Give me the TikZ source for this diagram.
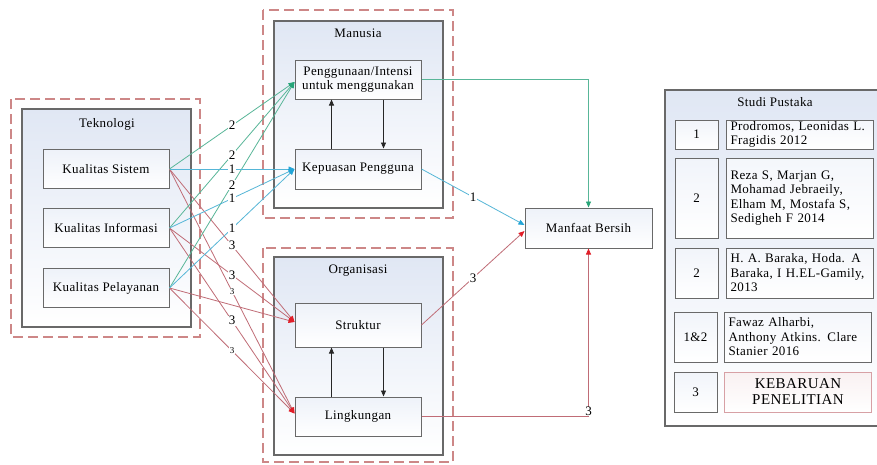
\documentclass[tikz,border=0pt]{standalone}
\usepackage{fontspec}
\setmainfont{Liberation Serif}[LetterSpace=3]
\usetikzlibrary{arrows.meta,calc}

\definecolor{tealline}{RGB}{88,182,152}
\definecolor{tealtip}{RGB}{40,165,120}
\definecolor{cyanline}{RGB}{85,182,215}
\definecolor{cyantip}{RGB}{35,165,215}
\definecolor{redline}{RGB}{192,108,118}
\definecolor{redtip}{RGB}{225,30,40}
\definecolor{dashred}{RGB}{205,135,135}
\definecolor{boxgray}{RGB}{105,105,105}
\definecolor{shadeblue}{RGB}{224,231,244}
\definecolor{pinkedge}{RGB}{215,160,165}

\tikzset{
  group/.style={draw=dashred, line width=1.3pt, dash pattern=on 10pt off 5pt},
  panel/.style={draw=boxgray, line width=1.1pt, top color=shadeblue, bottom color=white},
  title/.style={font=\fontsize{13}{14}\selectfont, inner sep=0pt},
  item/.style={draw=boxgray, line width=1pt, top color=shadeblue!55!white, bottom color=white,
    minimum width=126pt, minimum height=39pt, inner sep=0pt, align=center,
    font=\fontsize{13}{14.5}\selectfont},
  numbox/.style={draw=boxgray, line width=1pt, top color=shadeblue!45!white, bottom color=white,
    minimum width=43pt, inner sep=0pt, font=\fontsize{13}{14}\selectfont},
  refbox/.style={draw=boxgray, line width=1pt, top color=shadeblue!35!white, bottom color=white,
    text width=139pt, inner xsep=4pt, inner ysep=0pt, align=left,
    font=\fontsize{13}{14.5}\selectfont},
  lab/.style={fill=white, inner sep=0.6pt, pos=0.5, font=\fontsize{13}{13}\selectfont},
  smlab/.style={fill=white, inner sep=0.4pt, pos=0.5, font=\fontsize{9}{9}\selectfont},
  tealc/.style={draw=tealline, line width=0.8pt, -{Triangle[length=6pt,width=5pt,color=tealtip]}},
  cyanc/.style={draw=cyanline, line width=0.8pt, -{Triangle[length=6pt,width=5pt,color=cyantip]}},
  redc/.style={draw=redline, line width=0.8pt, -{Triangle[length=6pt,width=5pt,color=redtip]}},
  blkc/.style={draw=black!85, line width=0.9pt, -{Triangle[length=6pt,width=5pt]}},
}

\begin{document}
\begin{tikzpicture}[x=1pt, y=-1pt]
\useasboundingbox (0,0) rectangle (877,464);
\fill[white] (0,0) rectangle (877,464);

% containers
\draw[group] (11,99) rectangle (200,337);
\draw[panel] (22,109) rectangle (191,327);
\node[title] (tekt) at (107,124) {Teknologi};

\draw[group] (263,10) rectangle (453,218);
\draw[panel] (274,21) rectangle (443,208);
\node[title] (mant) at (358,33) {Manusia};

\draw[group] (263,248) rectangle (453,462);
\draw[panel] (274,257) rectangle (443,455);
\node[title] (orgt) at (358,271) {Organisasi};

\draw[panel] (665,90) rectangle (884,426);
\node[title] (spt) at (775,102) {Studi Pustaka};

% technology factors
\node[item] (ks) at (106,169) {Kualitas Sistem};
\node[item] (ki) at (106,228) {Kualitas Informasi};
\node[item] (kpl) at (106,288) {Kualitas Pelayanan};

% human factors
\node[item] (pg) at (358,79.5) {Penggunaan/Intensi\\untuk menggunakan};
\node[item, minimum height=40pt] (kp) at (358,169) {Kepuasan Pengguna};

% organisation factors
\node[item, minimum height=44pt] (st) at (358,325) {Struktur};
\node[item] (lk) at (358,416.5) {Lingkungan};

% outcome
\node[item, minimum width=127pt, minimum height=40pt] (mb) at (588.5,228) {Manfaat Bersih};

% literature table
\node[numbox, minimum height=29pt] (n1) at (696.5,134.5) {1};
\node[refbox, minimum height=29pt] (r1) at (800,134.5) {Prodromos, Leonidas L.\\Fragidis 2012};
\node[numbox, minimum height=80pt] (n2) at (696.5,198) {2};
\node[refbox, minimum height=80pt] (r2) at (800,198) {Reza S, Marjan G,\\Mohamad Jebraeily,\\Elham M, Mostafa S,\\Sedigheh F 2014};
\node[numbox, minimum height=50pt] (n3) at (696.5,273) {2};
\node[refbox, minimum height=50pt] (r3) at (800,273) {H. A. Baraka, Hoda. A\\Baraka, I H.EL-Gamily,\\2013};
\node[numbox, minimum height=50pt] (n4) at (695.5,337) {1\&2};
\node[refbox, minimum height=50pt] (r4) at (798,337) {Fawaz Alharbi,\\Anthony Atkins. Clare\\Stanier 2016};
\node[numbox, minimum height=40pt] (n5) at (695.5,392) {3};
\node[refbox, draw=pinkedge, top color=pinkedge!15!white, minimum height=40pt, align=center,
      font=\fontsize{15}{16}\selectfont] (r5) at (798,392) {KEBARUAN\\PENELITIAN};

% links inside the groups
\draw[blkc] ($(kp.north west)+(37,0)$) -- ($(pg.south west)+(37,0)$);
\draw[blkc] ($(pg.south west)+(89,0)$) -- ($(kp.north west)+(89,0)$);
\draw[blkc] ($(lk.north west)+(37,0)$) -- ($(st.south west)+(37,0)$);
\draw[blkc] ($(st.south west)+(89,0)$) -- ($(lk.north west)+(89,0)$);

% technology -> organisation
\draw[redc] (ks.east) -- node[lab]{3} ($(st.west)+(0,-3)$);
\draw[redc] (ki.east) -- node[lab]{3} ($(st.west)+(0,-3)$);
\draw[redc] (kpl.east) -- ($(st.west)+(0,-3)$);
\draw[redc] (ks.east) -- node[smlab]{3} ($(lk.west)+(0,-3)$);
\draw[redc] (ki.east) -- node[lab]{3} ($(lk.west)+(0,-3)$);
\draw[redc] (kpl.east) -- node[smlab]{3} ($(lk.west)+(0,-3)$);

% technology -> human
\draw[tealc] (ks.east) -- node[lab]{2} ($(pg.west)+(0,2.5)$);
\draw[tealc] (ki.east) -- node[lab]{2} ($(pg.west)+(0,2.5)$);
\draw[tealc] (kpl.east) -- node[lab]{2} ($(pg.west)+(0,2.5)$);
\draw[cyanc] (ks.east) -- node[lab]{1} (kp.west);
\draw[cyanc] (ki.east) -- node[lab]{1} (kp.west);
\draw[cyanc] (kpl.east) -- node[lab]{1} (kp.west);

% factors -> net benefit
\draw[tealc] (pg.east) -| (mb.north);
\draw[cyanc] (kp.east) -- node[lab]{1} ($(mb.west)+(0,-3)$);
\draw[redc] (st.east) -- node[lab]{3} ($(mb.west)+(0,3)$);
\draw[redc] (lk.east) -| node[lab, yshift=5pt]{3} (mb.south);
\end{tikzpicture}
\end{document}
